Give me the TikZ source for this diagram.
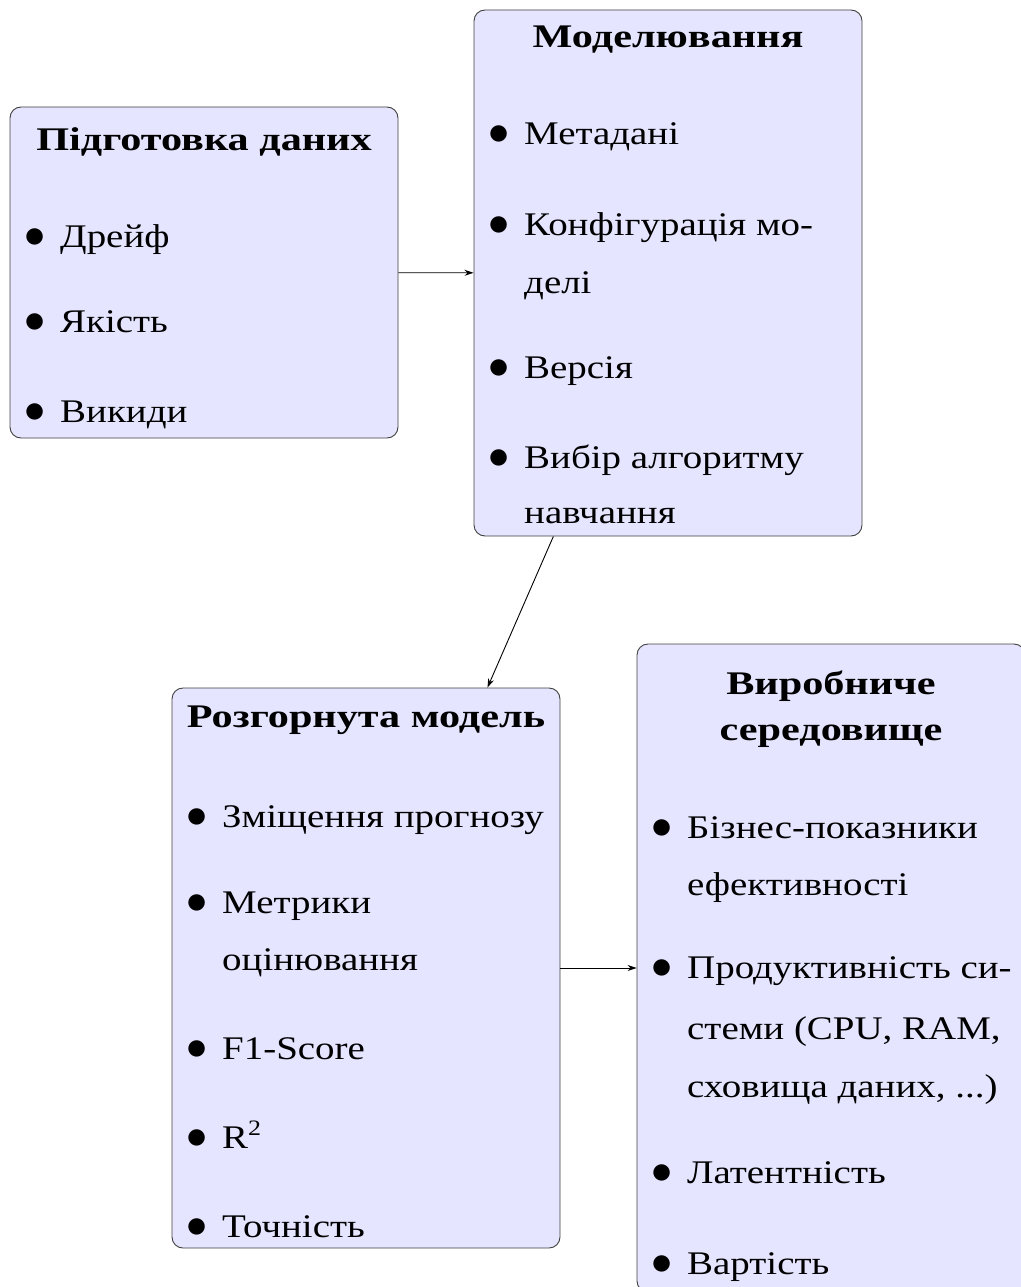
\documentclass[tikz,border=0pt]{standalone}
\usepackage{fontspec}
\setmainfont{Liberation Serif}[FakeStretch=1.18]
\newfontfamily\headfont{Liberation Serif}[FakeStretch=1.28]
\usetikzlibrary{arrows.meta}
\begin{document}
\begin{tikzpicture}[x=1pt,y=-1pt,
  panel/.style={draw=black!75, line width=0.9pt, fill=blue!10,
    rounded corners=11pt, minimum width=388pt, inner sep=0pt},
  heading/.style={anchor=base, inner sep=0pt,
    font=\fontsize{33}{40}\selectfont\headfont\bfseries},
  entry/.style={anchor=base west, inner sep=0pt,
    font=\fontsize{33}{40}\selectfont},
  flow/.style={-{Stealth[length=9pt,width=6pt]}, line width=0.9pt}]
\newcommand{\itm}[1]{\makebox[36pt][l]{\scalebox{1.7}{$\bullet$}}#1}
\newcommand{\sqr}{\raisebox{13pt}{\fontsize{22}{22}\selectfont 2}}

\useasboundingbox (0,0) rectangle (1020,1287);

% panels
\node[panel, minimum height=331pt] (prep)   at (204,272.5) {};
\node[panel, minimum height=526pt] (model)  at (668,273)   {};
\node[panel, minimum height=560pt] (deploy) at (366,968)   {};
\node[panel, minimum height=648pt] (prod)   at (831,968)   {};

% data preparation
\node[heading] (prepT) at (204,150) {Підготовка даних};
\node[entry] (prep1) at (24,247) {\itm{Дрейф}};
\node[entry] (prep2) at (24,332) {\itm{Якість}};
\node[entry] (prep3) at (24,422) {\itm{Викиди}};

% modelling
\node[heading] (modelT) at (668,48) {Моделювання};
\node[entry] (model1)  at (488,145) {\itm{Метадані}};
\node[entry] (model2)  at (488,235) {\itm{Конфігурація мо-}};
\node[entry] (model2b) at (524,293) {делі};
\node[entry] (model3)  at (488,378) {\itm{Версія}};
\node[entry] (model4)  at (488,468) {\itm{Вибір алгоритму}};
\node[entry] (model4b) at (524,523) {навчання};

% deployed model
\node[heading] (deployT) at (366,727) {Розгорнута модель};
\node[entry] (dep1)  at (186,827)  {\itm{Зміщення прогнозу}};
\node[entry] (dep2)  at (186,913)  {\itm{Метрики}};
\node[entry] (dep2b) at (222,970)  {оцінювання};
\node[entry] (dep3)  at (186,1059) {\itm{F1-Score}};
\node[entry] (dep4)  at (186,1148) {\itm{R\sqr}};
\node[entry] (dep5)  at (186,1237) {\itm{Точність}};

% production environment
\node[heading] (prodT1) at (831,694) {Виробниче};
\node[heading] (prodT2) at (831,740) {середовище};
\node[entry] (prod1)  at (651,838)  {\itm{Бізнес-показники}};
\node[entry] (prod1b) at (687,895)  {ефективності};
\node[entry] (prod2)  at (651,978)  {\itm{Продуктивність си-}};
\node[entry] (prod2b) at (687,1039) {стеми (CPU, RAM,};
\node[entry] (prod2c) at (687,1097) {сховища даних, ...)};
\node[entry] (prod3)  at (651,1183) {\itm{Латентність}};
\node[entry] (prod4)  at (651,1274) {\itm{Вартість}};

% flow between stages
\draw[flow] (prep) -- (model);
\draw[flow] (model) -- (deploy);
\draw[flow] (deploy) -- (prod);
\end{tikzpicture}
\end{document}
